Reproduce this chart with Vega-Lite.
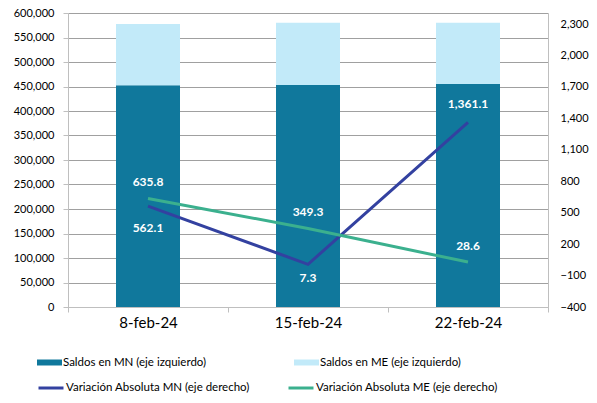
{
  "$schema": "https://vega.github.io/schema/vega-lite/v6.json",
  "width": 480,
  "height": 294,
  "autosize": {"type": "none"},
  "padding": {"left": 68, "top": 13, "right": 49, "bottom": 96},
  "background": "white",
  "config": {
    "view": {"stroke": null},
    "font": "Lato",
    "axis": {"labelFont": "Lato", "labelColor": "#000000", "domainColor": "#BFBFBF", "tickColor": "#BFBFBF", "labelOverlap": false},
    "legend": {"labelFont": "Lato", "labelFontSize": 11.5, "labelColor": "#000000", "padding": 0, "labelOffset": 1, "rowPadding": 0, "labelLimit": 400}
  },
  "datasets": {
    "saldos": [
      {"fecha": "8-feb-24", "serie": "Saldos en MN (eje izquierdo)", "valor": 452500},
      {"fecha": "8-feb-24", "serie": "Saldos en ME (eje izquierdo)", "valor": 125100},
      {"fecha": "15-feb-24", "serie": "Saldos en MN (eje izquierdo)", "valor": 453000},
      {"fecha": "15-feb-24", "serie": "Saldos en ME (eje izquierdo)", "valor": 127200},
      {"fecha": "22-feb-24", "serie": "Saldos en MN (eje izquierdo)", "valor": 455100},
      {"fecha": "22-feb-24", "serie": "Saldos en ME (eje izquierdo)", "valor": 125100}
    ],
    "variacion": [
      {"fecha": "8-feb-24", "serie": "Variación Absoluta MN (eje derecho)", "valor": 562.1},
      {"fecha": "15-feb-24", "serie": "Variación Absoluta MN (eje derecho)", "valor": 7.3},
      {"fecha": "22-feb-24", "serie": "Variación Absoluta MN (eje derecho)", "valor": 1361.1},
      {"fecha": "8-feb-24", "serie": "Variación Absoluta ME (eje derecho)", "valor": 635.8},
      {"fecha": "15-feb-24", "serie": "Variación Absoluta ME (eje derecho)", "valor": 349.3},
      {"fecha": "22-feb-24", "serie": "Variación Absoluta ME (eje derecho)", "valor": 28.6}
    ]
  },
  "layer": [
    {
      "data": {"name": "saldos"},
      "mark": {"type": "bar", "width": {"band": 0.4}},
      "encoding": {
        "x": {
          "field": "fecha", "type": "nominal", "sort": null,
          "scale": {"paddingInner": 0, "paddingOuter": 0},
          "axis": {"title": null, "labelAngle": 0, "tickBand": "extent", "labelFontSize": 15, "labelPadding": 3, "tickSize": 5, "grid": false}
        },
        "y": {
          "field": "valor", "type": "quantitative", "stack": "zero",
          "scale": {"domain": [0, 600000], "nice": false},
          "axis": {"title": null, "orient": "left", "values": [0, 50000, 100000, 150000, 200000, 250000, 300000, 350000, 400000, 450000, 500000, 550000, 600000], "format": ",d", "grid": true, "gridColor": "#A0A0A0", "tickSize": 5, "labelPadding": 9, "labelFontSize": 11}
        },
        "fill": {
          "field": "serie", "type": "nominal",
          "scale": {"domain": ["Saldos en MN (eje izquierdo)", "Saldos en ME (eje izquierdo)"], "range": ["#10789C", "#C2EAF9"]},
          "legend": {"title": null, "orient": "none", "direction": "horizontal", "legendX": -31, "legendY": 337, "symbolType": "M-1,-0.24H1V0.24H-1Z", "symbolSize": 625, "symbolStrokeWidth": 0, "columnPadding": 87}
        },
        "order": {"field": "serie", "sort": "descending"}
      }
    },
    {
      "data": {"name": "variacion"},
      "encoding": {
        "x": {"field": "fecha", "type": "nominal", "sort": null},
        "y": {
          "field": "valor", "type": "quantitative",
          "scale": {"domain": [-400, 2405], "nice": false, "zero": false},
          "axis": {"title": null, "orient": "right", "values": [-400, -100, 200, 500, 800, 1100, 1400, 1700, 2000, 2300], "format": ",d", "grid": false, "ticks": false, "labelPadding": 12, "labelFontSize": 11, "labelOverlap": false}
        }
      },
      "layer": [
        {
          "mark": {"type": "line", "strokeWidth": 3},
          "encoding": {
            "stroke": {
              "field": "serie", "type": "nominal",
              "scale": {"domain": ["Variación Absoluta MN (eje derecho)", "Variación Absoluta ME (eje derecho)"], "range": ["#3341A0", "#3BB08E"]},
              "legend": {"title": null, "orient": "none", "direction": "horizontal", "legendX": -31, "legendY": 361, "symbolType": "stroke", "symbolSize": 625, "symbolStrokeWidth": 3, "columnPadding": 32}
            }
          }
        },
        {
          "transform": [{"filter": "datum.serie == 'Variación Absoluta MN (eje derecho)' && datum.fecha == '8-feb-24'"}],
          "mark": {"type": "text", "color": "white", "fontWeight": "bold", "fontSize": 12, "dy": 22},
          "encoding": {"text": {"field": "valor", "type": "quantitative", "format": ",.1f"}}
        },
        {
          "transform": [{"filter": "datum.serie == 'Variación Absoluta MN (eje derecho)' && datum.fecha == '15-feb-24'"}],
          "mark": {"type": "text", "color": "white", "fontWeight": "bold", "fontSize": 12, "dy": 14},
          "encoding": {"text": {"field": "valor", "type": "quantitative", "format": ",.1f"}}
        },
        {
          "transform": [{"filter": "datum.serie == 'Variación Absoluta MN (eje derecho)' && datum.fecha == '22-feb-24'"}],
          "mark": {"type": "text", "color": "white", "fontWeight": "bold", "fontSize": 12, "dy": -18},
          "encoding": {"text": {"field": "valor", "type": "quantitative", "format": ",.1f"}}
        },
        {
          "transform": [{"filter": "datum.serie == 'Variación Absoluta ME (eje derecho)'"}],
          "mark": {"type": "text", "color": "white", "fontWeight": "bold", "fontSize": 12, "dy": -16},
          "encoding": {"text": {"field": "valor", "type": "quantitative", "format": ",.1f"}}
        }
      ]
    }
  ],
  "resolve": {"scale": {"y": "independent"}}
}
